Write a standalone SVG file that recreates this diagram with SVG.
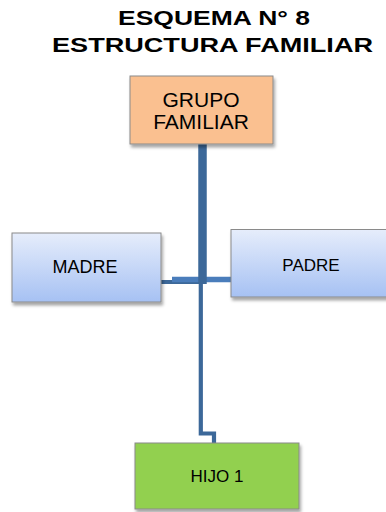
<svg xmlns="http://www.w3.org/2000/svg" width="386" height="512" viewBox="0 0 386 512">
<style>
.title{font-family:"Liberation Sans",Arial,sans-serif;font-weight:bold;font-size:21px;fill:#000}
.lbl{font-family:"Liberation Sans",Arial,sans-serif;fill:#000;text-anchor:middle}
.box{stroke:#8a8a8a;stroke-width:1;filter:url(#sh)}
.conn{fill:none;stroke:#3c6899}
</style>
<defs>
<filter id="sh" x="-10%" y="-10%" width="130%" height="140%">
<feDropShadow dx="1.5" dy="3" stdDeviation="1.8" flood-color="#000" flood-opacity="0.35"/>
</filter>
<linearGradient id="blue" x1="0" y1="0" x2="0" y2="1">
<stop offset="0" stop-color="#e6edfb"/>
<stop offset="1" stop-color="#a6c1f3"/>
</linearGradient>
</defs>
<rect width="386" height="512" fill="#fff"/>
<g id="title">
<text class="title" x="118" y="25" textLength="192" lengthAdjust="spacingAndGlyphs">ESQUEMA N° 8</text>
<text class="title" x="52" y="52" textLength="321" lengthAdjust="spacingAndGlyphs">ESTRUCTURA FAMILIAR</text>
</g>
<g id="connectors">
<line class="conn" x1="161" y1="282" x2="201" y2="282" stroke-width="4"/>
<line x1="172" y1="279.5" x2="233" y2="279.5" stroke="#4a7dbb" stroke-width="5.5"/>
<line class="conn" x1="202.5" y1="144" x2="202.5" y2="284" stroke-width="8.5"/>
<path class="conn" d="M200.8,283 V433.5 H214 V443" stroke-width="4.2"/>
</g>
<g id="grupo">
<rect class="box" x="130" y="76" width="143" height="68" fill="#fac090"/>
<text class="lbl" x="201" y="107" font-size="21">GRUPO</text>
<text class="lbl" x="201" y="129" font-size="21">FAMILIAR</text>
</g>
<g id="madre">
<rect class="box" x="12" y="233" width="149" height="69" fill="url(#blue)"/>
<text class="lbl" x="85" y="273" font-size="18">MADRE</text>
</g>
<g id="padre">
<rect class="box" x="231" y="229.5" width="160" height="67.5" fill="url(#blue)"/>
<text class="lbl" x="311" y="271" font-size="17">PADRE</text>
</g>
<g id="hijo">
<rect class="box" x="135" y="443" width="164" height="66" fill="#92d050"/>
<text class="lbl" x="217" y="482" font-size="17">HIJO 1</text>
</g>
</svg>
